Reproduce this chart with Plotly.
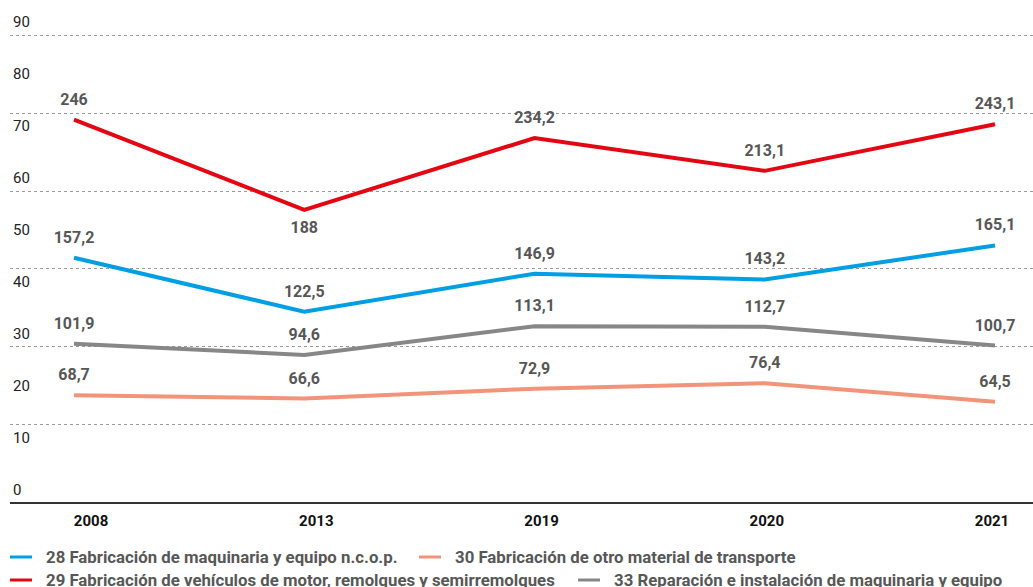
import plotly.graph_objects as go

years = ["2008", "2013", "2019", "2020", "2021"]

series_names = [
    "28 Fabricación de maquinaria y equipo n.c.o.p.",
    "29 Fabricación de vehículos de motor, remolques y semirremolques",
    "30 Fabricación de otro material de transporte",
    "33 Reparación e instalación de maquinaria y equipo",
]
maquinaria = [157.2, 122.5, 146.9, 143.2, 165.1]
vehiculos = [246.0, 188.0, 234.2, 213.1, 243.1]
otro_transporte = [68.7, 66.6, 72.9, 76.4, 64.5]
reparacion = [101.9, 94.6, 113.1, 112.7, 100.7]

colors = ["#009fe3", "#e30613", "#f29479", "#878787"]

# printed scale on the left
scale_labels = ["0", "10", "20", "30", "40", "50", "60", "70", "80", "90"]
scale_values = [0, 10, 20, 30, 40, 50, 60, 70, 80, 90]
grid_values = [50, 100, 150, 200, 250, 300]

W, H = 1033, 587
ML, MR, MT, MB = 10, 0, 10, 85
PW, PH = W - ML - MR, H - MT - MB


def px_x(px):
    return (px - ML) / PW


def px_y(py):
    return (H - MB - py) / PH


def fmt(v):
    if float(v).is_integer():
        return str(int(v))
    return f"{v:.1f}".replace(".", ",")


fig = go.Figure()
all_series = [maquinaria, vehiculos, otro_transporte, reparacion]
for name, vals, col in zip(series_names, all_series, colors):
    positions = ["top center"] * len(vals)
    if vals is vehiculos:
        positions[1] = "bottom center"
    fig.add_trace(go.Scatter(
        x=years, y=vals, name=name, mode="lines+markers+text",
        line=dict(color=col, width=4),
        marker=dict(size=16, opacity=0, color=col),
        text=[fmt(v) for v in vals],
        textposition=positions,
        textfont=dict(family="Roboto", size=16, color="#575757", weight="bold"),
        cliponaxis=False,
        showlegend=False,
        hoverinfo="skip",
    ))

# invisible trace carrying the printed scales (x2 / y2)
fig.add_trace(go.Scatter(x=[0], y=[None], xaxis="x2", yaxis="y2",
                         showlegend=False, hoverinfo="skip"))

# legend drawn as short strokes + labels, two rows
legend_slots = [(10, 557), (10, 580), (419, 557), (578, 580)]
shapes = []
annotations = []
for name, col, (sx, sy) in zip(series_names, colors, legend_slots):
    shapes.append(dict(
        type="line", xref="paper", yref="paper",
        x0=px_x(sx), x1=px_x(sx + 22), y0=px_y(sy), y1=px_y(sy),
        line=dict(color=col, width=3),
    ))
    annotations.append(dict(
        text=name, xref="paper", yref="paper",
        x=px_x(sx + 34), y=px_y(sy), xanchor="left", yanchor="middle",
        showarrow=False,
        font=dict(family="Roboto", size=16.8, color="#575757", weight="bold"),
    ))

fig.update_layout(
    width=W, height=H,
    margin=dict(l=ML, r=MR, t=MT, b=MB),
    paper_bgcolor="white", plot_bgcolor="white",
    showlegend=False,
    shapes=shapes,
    annotations=annotations,
    xaxis=dict(
        type="category", range=[-0.278, 4.165],
        showgrid=False, zeroline=False, showticklabels=False,
        showline=True, linecolor="#333333", linewidth=2,
        ticks="",
    ),
    xaxis2=dict(
        overlaying="x", anchor="y", side="bottom",
        range=[-0.36, 4.182], tickvals=[0, 1, 2, 3, 4], ticktext=years,
        showgrid=False, zeroline=False, showline=False, ticks="",
        ticklabelstandoff=8,
        tickfont=dict(family="Roboto", size=15, color="#111111", weight="bold"),
    ),
    yaxis=dict(
        range=[0, 316.6], tickvals=grid_values, showticklabels=False,
        showgrid=True, gridcolor="#9a9a9a", gridwidth=1, griddash="dot",
        zeroline=False, showline=False, ticks="",
    ),
    yaxis2=dict(
        overlaying="y", side="left", range=[-2.4, 92.2],
        tickvals=scale_values, ticktext=scale_labels,
        ticklabelposition="inside", ticks="",
        showgrid=False, zeroline=False, showline=False,
        tickfont=dict(family="Roboto", size=15, color="#222222"),
    ),
)

fig.write_html("out.html")
